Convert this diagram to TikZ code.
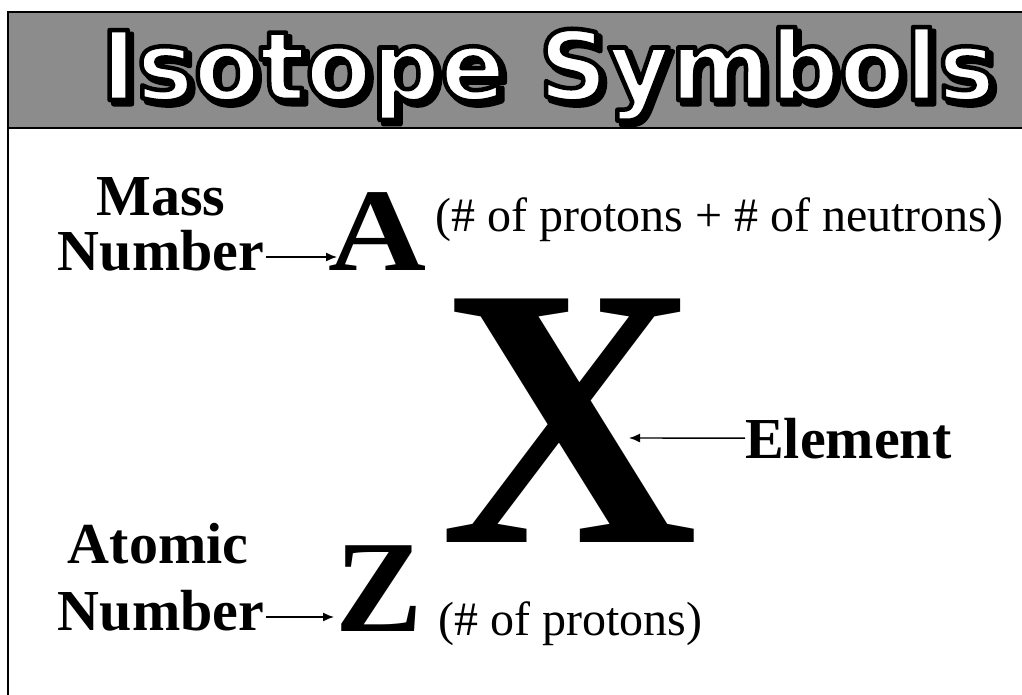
\documentclass[tikz,border=0pt]{standalone}
\usepackage{fontspec}
\usepackage{graphicx}
\setmainfont{Liberation Serif}
\newfontfamily\titlefamily{DejaVu Sans}
\usetikzlibrary{arrows.meta,positioning,calc}
\definecolor{bandgray}{HTML}{8C8C8C}
\newcommand{\labfont}{\fontsize{58}{60}\selectfont\bfseries}
\newcommand{\notefont}{\fontsize{48}{50}\selectfont}
\newcommand{\titlefont}{\titlefamily\fontsize{96}{100}\selectfont\bfseries}
% stroked text: #1 = stroke width, #2 = text
\newcommand{\strokedtext}[2]{\special{pdf:literal direct #1 w 0 G 1 j 2 Tr}#2\special{pdf:literal direct 0 Tr}}

\begin{document}
\begin{tikzpicture}[x=1pt,y=-1pt,
    lab/.style={inner sep=0pt,anchor=base,font=\labfont},
    note/.style={inner sep=0pt,anchor=base west,font=\notefont},
    sym/.style={inner sep=0pt,anchor=base west},
    titletext/.style={inner sep=0pt,anchor=base,font=\titlefont},
    pointer/.style={line width=1.4pt,-{Latex[length=11pt,width=9pt]}}]
    \useasboundingbox (0,0) rectangle (1022,695);
    % title band
    \fill[bandgray] (8,12) rectangle (1022,128);
    \draw[line width=2pt] (8,695) -- (8,12) -- (1022,12);
    \draw[line width=2pt] (8,128) -- (1022,128);
    \node[titletext,black] (tshadow) at (552,104) {\strokedtext{5}{Isotope Symbols}};
    \node[titletext,white] (title) at (548,100) {\strokedtext{4.5}{Isotope Symbols}};
    % symbols
    \node[sym,font=\fontsize{118}{120}\selectfont\bfseries] (symA) at (328,270) {\scalebox{1.15}[1]{A}};
    \node[sym,font=\fontsize{372}{372}\selectfont\bfseries] (symX) at (440,542) {\scalebox{0.96}[1]{X}};
    \node[sym,font=\fontsize{131}{131}\selectfont\bfseries] (symZ) at (335,631) {Z};
    % labels
    \node[lab] (massA) at (161,215) {Mass};
    \node[lab] (massB) at (161,270) {Number};
    \node[lab] (atomA) at (158,563) {Atomic};
    \node[lab] (atomB) at (161,630) {Number};
    \node[lab,anchor=base west] (elem) at (745,458) {Element};
    \node[note] (massnote) at (435,231) {(\# of protons + \# of neutrons)};
    \node[note] (atomnote) at (438,635) {(\# of protons)};
    % arrows
    \coordinate (mArr) at ([xshift=2pt,yshift=13pt]massB.base east);
    \coordinate (aArr) at ([xshift=2pt,yshift=13pt]atomB.base east);
    \coordinate (xHit) at (629,438);
    \draw[pointer] (mArr) -- ([xshift=9pt]mArr -| symA.west);
    \draw[pointer] (aArr) -- ([xshift=-1pt]aArr -| symZ.west);
    \draw[pointer] (elem.west) -- (xHit);
\end{tikzpicture}
\end{document}
